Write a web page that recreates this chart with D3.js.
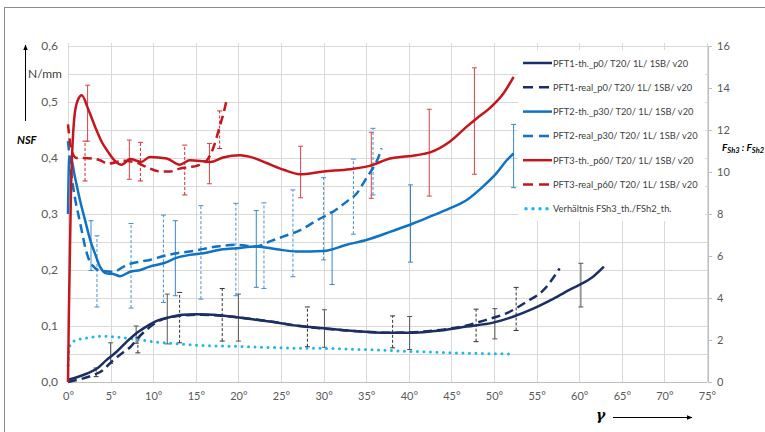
<!DOCTYPE html>
<head>
<meta charset="utf-8">
<script src="https://d3js.org/d3.v7.min.js"></script>
<style>
  body { margin: 0; background: #fff; }
  text { font-family: Lato, "Open Sans", sans-serif; fill: #404040; }
  .tick text { font-size: 11px; fill: #595959; }
  .legend text { font-size: 9.3px; fill: #404040; }
  .domain { display: none; }
</style>
</head>
<body>
<script>
// x = gamma in degrees, y = NSF in N/mm
const xTicks = [0, 5, 10, 15, 20, 25, 30, 35, 40, 45, 50, 55, 60, 65, 70, 75];
const yTicks = [0, 0.1, 0.2, 0.3, 0.4, 0.5, 0.6];
const y2Ticks = [0, 2, 4, 6, 8, 10, 12, 14, 16];

const pft1Th = [[0,0.004],[1.8,0.0125],[3.4,0.024],[4.5,0.039],[5.7,0.054],[6.9,0.072],[8.1,0.088],[9.2,0.099],
  [10.4,0.109],[12,0.116],[13.5,0.12],[15.1,0.121],[17.1,0.12],[19,0.117],[21.4,0.1125],[23.7,0.108],[26.1,0.102],
  [27.2,0.1],[30,0.096],[32.7,0.092],[35.4,0.089],[38.2,0.088],[40.5,0.088],[43.7,0.092],[46.8,0.099],[49.9,0.106],
  [52.3,0.117],[54.6,0.131],[57,0.149],[59.3,0.168],[60.1,0.174],[61.7,0.189],[62.9,0.206]];
const pft1Real = [[0,0],[1.8,0.0065],[3,0.0125],[4.1,0.021],[5.1,0.036],[6.4,0.052],[7.3,0.062],[8.3,0.08],[9.6,0.098],
  [10.8,0.11],[12.5,0.117],[15,0.12],[19,0.117],[23.7,0.108],[27.2,0.1],[32.7,0.092],[38.2,0.088],[43.7,0.093],
  [46.8,0.101],[49.1,0.111],[51.5,0.123],[53.8,0.143],[55.8,0.164],[57.7,0.203]];
const pft2Th = [[0,0.3],[0.15,0.402],[0.35,0.4],[0.8,0.367],[1.4,0.325],[2,0.289],[2.6,0.254],[3.2,0.228],[3.75,0.206],
  [4.5,0.194],[5.3,0.193],[6.1,0.189],[7.3,0.197],[8.5,0.2],[9.6,0.206],[11.2,0.212],[12.8,0.222],[14.3,0.227],
  [15.9,0.23],[18.2,0.237],[19.8,0.239],[22.1,0.242],[24.5,0.237],[26.8,0.233],[30,0.234],[32.7,0.245],[35.1,0.254],
  [37.8,0.268],[40.5,0.283],[42.9,0.298],[44.8,0.31],[46.8,0.325],[48.7,0.349],[50.3,0.373],[51.5,0.396],[52.3,0.408]];
const pft2Real = [[0,0.43],[0.43,0.367],[0.8,0.33],[1.2,0.3],[1.6,0.271],[2,0.242],[2.4,0.221],[3,0.206],[3.75,0.199],
  [5.3,0.197],[6.9,0.209],[8.5,0.215],[9.6,0.218],[11.2,0.225],[12.8,0.23],[14.3,0.233],[17.5,0.242],[19.8,0.245],
  [22.1,0.242],[23.7,0.251],[25.3,0.26],[26.8,0.268],[29.6,0.292],[31.1,0.304],[32.7,0.322],[33.9,0.337],
  [34.9,0.361],[36.6,0.408],[36.8,0.417]];
const pft3Th = [[0,0],[0.1,0.12],[0.35,0.343],[0.8,0.48],[1.2,0.505],[1.6,0.512],[2.4,0.486],[3.2,0.455],[3.95,0.429],
  [4.7,0.411],[5.5,0.395],[6.3,0.388],[7.3,0.398],[8.6,0.393],[9.6,0.402],[11.6,0.399],[13.1,0.388],[14.3,0.396],
  [16.7,0.393],[18.2,0.401],[20.2,0.405],[21.4,0.402],[23.3,0.391],[25.3,0.379],[27.2,0.371],[30,0.376],[33.1,0.38],
  [35.4,0.386],[37.8,0.399],[40.9,0.405],[42.5,0.41],[44.8,0.429],[46.8,0.456],[48,0.471],[49.5,0.489],[51.1,0.515],
  [52.3,0.545]];
const pft3Real = [[0,0.46],[0.4,0.414],[1,0.4],[1.8,0.4],[3,0.399],[3.75,0.396],[4.7,0.39],[6.5,0.395],[8,0.392],
  [9.2,0.384],[10.8,0.376],[12,0.376],[13.1,0.381],[14.3,0.384],[15.1,0.386],[16.3,0.396],[17.1,0.42],[17.8,0.456],
  [18.2,0.477],[18.6,0.502]];
// ratio FSh3/FSh2 on the right axis
const ratio = [[0,0.8],[0.1,1.5],[0.3,1.8],[1,2.0],[2.2,2.1],[4.1,2.18],[5.7,2.14],[7.7,2.05],[9.6,1.94],[12.8,1.82],
  [15.5,1.74],[19.4,1.7],[23.3,1.65],[26.8,1.61],[30,1.6],[35.1,1.54],[40.1,1.46],[45.2,1.39],[52.3,1.33]];

// error bars: [gamma, low, high]
const err1Th = [[5,0.033,0.07],[8,0.069,0.1],[11.65,0.068,0.157],[20,0.073,0.157],[30.1,0.062,0.129],[40.1,0.058,0.117],
  [50.1,0.077,0.131],[60.2,0.134,0.212]];
const err1Real = [[3.3,0.0095,0.025],[8.2,0.052,0.079],[13.1,0.07,0.16],[18.1,0.073,0.167],[28.1,0.063,0.134],
  [38.1,0.061,0.118],[47.9,0.072,0.13],[52.6,0.092,0.169]];
const err2Th = [[2.7,0.199,0.288],[12.6,0.154,0.288],[22.1,0.169,0.306],[31,0.174,0.304],[40.2,0.214,0.352],[52.3,0.347,0.46]];
const err2Real = [[3.4,0.134,0.261],[7.4,0.132,0.283],[11.2,0.142,0.298],[15.6,0.148,0.315],[19.7,0.154,0.319],
  [23,0.167,0.32],[26.4,0.188,0.343],[30,0.218,0.365],[33.5,0.264,0.398],[35.8,0.334,0.453]];
const err3Th = [[2.3,0.43,0.53],[7.2,0.362,0.432],[16.6,0.354,0.426],[27.3,0.329,0.421],[35.6,0.328,0.446],
  [42.4,0.332,0.487],[47.7,0.371,0.561]];
const err3Real = [[2,0.359,0.43],[8.5,0.359,0.428],[13.7,0.334,0.423],[17.8,0.417,0.484]];

const legendLabels = ['PFT1-th._p0/ T20/ 1L/ 1SB/ v20', 'PFT1-real_p0/ T20/ 1L/ 1SB/ v20',
  'PFT2-th._p30/ T20/ 1L/ 1SB/ v20', 'PFT2-real_p30/ T20/ 1L/ 1SB/ v20',
  'PFT3-th._p60/ T20/ 1L/ 1SB/ v20', 'PFT3-real_p60/ T20/ 1L/ 1SB/ v20',
  'Verhältnis FSh3_th./FSh2_th.'];

const navy = '#1b2f66', blue = '#0f72c4', red = '#c4161c', cyan = '#1ab8ee';

const width = 765, height = 432;
const svg = d3.select('body').append('svg').attr('width', width).attr('height', height);

svg.append('rect').attr('x', 4.5).attr('y', 7.5).attr('width', 800).attr('height', 500)
  .attr('fill', 'none').attr('stroke', '#8c8c8c');

const x = d3.scaleLinear().domain([0, 75]).range([68, 707]);
const y = d3.scaleLinear().domain([0, 0.6]).range([382, 46]);
const y2 = d3.scaleLinear().domain([0, 16]).range([382, 46]);

// grid
svg.append('g').selectAll('line.h')
  .data(d3.range(0, 0.6001, 0.05))
  .join('line')
  .attr('x1', x(0)).attr('x2', x(75))
  .attr('y1', d => Math.round(y(d)) + 0.5).attr('y2', d => Math.round(y(d)) + 0.5)
  .attr('stroke', '#d9d9d9');
svg.append('g').selectAll('line.v')
  .data(xTicks)
  .join('line')
  .attr('x1', d => Math.round(x(d)) + 0.5).attr('x2', d => Math.round(x(d)) + 0.5)
  .attr('y1', y(0.6) - 3).attr('y2', y(0))
  .attr('stroke', '#d9d9d9');

// axes
const xAxis = d3.axisBottom(x).tickValues(xTicks).tickSize(0).tickPadding(10).tickFormat(d => d + '°');
svg.append('g').attr('transform', `translate(0,${y(0)})`).call(xAxis);
svg.append('line').attr('x1', x(0)).attr('x2', x(75)).attr('y1', y(0) + 0.5).attr('y2', y(0) + 0.5).attr('stroke', '#bfbfbf');

const yAxis = d3.axisLeft(y).tickValues(yTicks).tickSize(0).tickPadding(10)
  .tickFormat(d => d3.format('.1f')(d).replace('.', ','));
svg.append('g').attr('transform', `translate(${x(0)},0)`).call(yAxis)
  .selectAll('.tick text').style('font-size', '12px');

const y2Axis = d3.axisRight(y2).tickValues(y2Ticks).tickSize(4).tickPadding(5);
const gy2 = svg.append('g').attr('transform', `translate(${x(75) + 1},0)`).call(y2Axis);
gy2.selectAll('.tick line').attr('stroke', '#bfbfbf');
svg.append('line').attr('x1', x(75) + 1.5).attr('x2', x(75) + 1.5).attr('y1', y2(16)).attr('y2', y2(0)).attr('stroke', '#bfbfbf');

// axis titles
const defs = svg.append('defs');
defs.append('marker').attr('id', 'arr').attr('viewBox', '0 0 10 10').attr('refX', 9).attr('refY', 5)
  .attr('markerWidth', 6).attr('markerHeight', 6).attr('orient', 'auto')
  .append('path').attr('d', 'M0,1 L10,5 L0,9 Z').attr('fill', '#000');
svg.append('line').attr('x1', 25.5).attr('x2', 25.5).attr('y1', 121).attr('y2', 45)
  .attr('stroke', '#000').attr('stroke-width', 1).attr('marker-end', 'url(#arr)');
svg.append('text').attr('x', 28).attr('y', 78).style('font-size', '12px').style('fill', '#404040').text('N/mm');
svg.append('text').attr('x', 17).attr('y', 144).style('font-size', '11px').style('font-weight', 700)
  .style('font-style', 'italic').style('fill', '#000').text('NSF');

svg.append('text').attr('x', 596).attr('y', 420).style('font-size', '14px').style('font-weight', 700)
  .style('font-style', 'italic').style('fill', '#000').style('font-family', 'DejaVu Serif, serif').text('γ');
svg.append('line').attr('x1', 613).attr('x2', 692).attr('y1', 417.5).attr('y2', 417.5)
  .attr('stroke', '#000').attr('marker-end', 'url(#arr)');

const rt = svg.append('text').attr('x', 722).attr('y', 151).style('font-size', '10px').style('font-weight', 700)
  .style('font-style', 'italic').style('fill', '#000');
rt.append('tspan').text('F');
rt.append('tspan').attr('dy', 2).style('font-size', '7.5px').text('Sh3');
rt.append('tspan').attr('dy', -2).text(' : F');
rt.append('tspan').attr('dy', 2).style('font-size', '7.5px').text('Sh2');

// error bars
function errBars(data, color, dash) {
  const g = svg.append('g').attr('stroke', color).attr('stroke-width', 1).attr('fill', 'none');
  g.selectAll('line.s').data(data).join('line')
    .attr('x1', d => x(d[0])).attr('x2', d => x(d[0]))
    .attr('y1', d => y(d[1])).attr('y2', d => y(d[2]))
    .attr('stroke-dasharray', dash);
  g.selectAll('line.lo').data(data).join('line')
    .attr('x1', d => x(d[0]) - 2.5).attr('x2', d => x(d[0]) + 2.5)
    .attr('y1', d => y(d[1])).attr('y2', d => y(d[1]));
  g.selectAll('line.hi').data(data).join('line')
    .attr('x1', d => x(d[0]) - 2.5).attr('x2', d => x(d[0]) + 2.5)
    .attr('y1', d => y(d[2])).attr('y2', d => y(d[2]));
}
errBars(err1Real, '#333333', '3,2');
errBars(err1Th, '#555555', null);
errBars(err2Real, '#4a8fd4', '3,2');
errBars(err2Th, '#3a86cf', null);
errBars(err3Real, '#d42a30', '3,2');
errBars(err3Th, '#d84048', null);

// curves
const line = d3.line().x(d => x(d[0])).y(d => y(d[1])).curve(d3.curveMonotoneX);
const line2 = d3.line().x(d => x(d[0])).y(d => y2(d[1])).curve(d3.curveMonotoneX);

const series = [
  { data: pft1Th, color: navy, dash: null },
  { data: pft1Real, color: navy, dash: '9,5' },
  { data: pft2Th, color: blue, dash: null },
  { data: pft2Real, color: blue, dash: '9,5' },
  { data: pft3Th, color: red, dash: null },
  { data: pft3Real, color: red, dash: '9,5' }
];
svg.append('path').attr('d', line2(ratio)).attr('fill', 'none').attr('stroke', cyan)
  .attr('stroke-width', 3).attr('stroke-linecap', 'round').attr('stroke-dasharray', '0,6.5');
series.forEach(s => {
  svg.append('path').attr('d', line(s.data)).attr('fill', 'none').attr('stroke', s.color)
    .attr('stroke-width', 2.5).attr('stroke-dasharray', s.dash).attr('stroke-linejoin', 'round');
});

// legend
const lg = svg.append('g').attr('class', 'legend');
lg.append('rect').attr('x', 518).attr('y', 50).attr('width', 187).attr('height', 171).attr('fill', '#fff');
const legItems = series.map((s, i) => ({ label: legendLabels[i], color: s.color, dash: s.dash ? '10,6' : null, w: 2.5, cap: 'butt' }))
  .concat([{ label: legendLabels[6], color: cyan, dash: '0,7', w: 3.5, cap: 'round' }]);
const row = lg.selectAll('g').data(legItems).join('g')
  .attr('transform', (d, i) => `translate(523,${63 + i * 24.3})`);
row.append('line').attr('x1', d => d.cap === 'round' ? 3 : 0).attr('x2', 29).attr('y1', 0).attr('y2', 0)
  .attr('stroke', d => d.color).attr('stroke-width', d => d.w)
  .attr('stroke-dasharray', d => d.dash).attr('stroke-linecap', d => d.cap);
row.append('text').attr('x', 30).attr('y', 3.5).text(d => d.label);
</script>
</body>
